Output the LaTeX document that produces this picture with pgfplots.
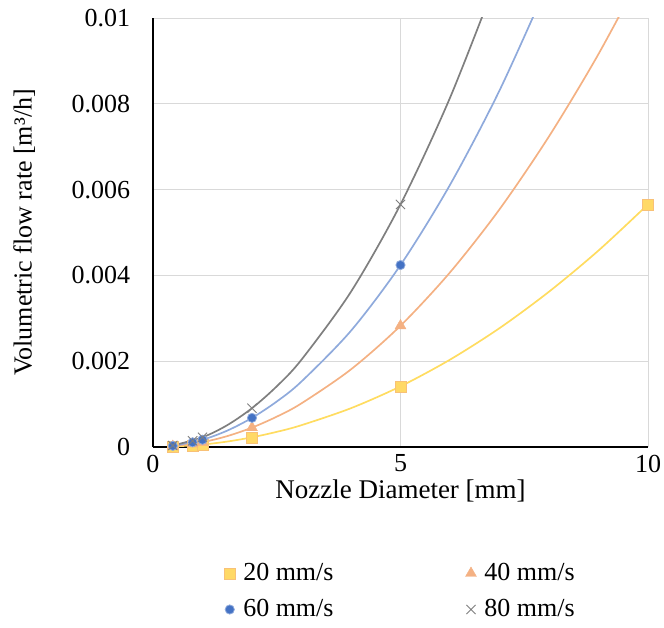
\documentclass[border=0pt]{standalone}
\usepackage{fontspec}
\setmainfont{Liberation Serif}
\usepackage{pgfplots}
\usepackage{pgfplotstable}
\pgfplotsset{compat=1.18}

\definecolor{cyel}{HTML}{FFD966}
\definecolor{cyelL}{HTML}{FFDC60}
\definecolor{corg}{HTML}{F4B183}
\definecolor{cblu}{HTML}{4472C4}
\definecolor{cbluL}{HTML}{8FAADC}
\definecolor{cgry}{HTML}{7F7F7F}
\definecolor{cgrid}{HTML}{D9D9D9}

% measured points: nozzle diameter [mm] vs volumetric flow rate [m3/h]
\pgfplotstableread{
d q
0.4 0.00000905
0.8 0.0000362
1.0 0.0000565
2.0 0.000226
5.0 0.001414
10.0 0.005655
}\vtwenty
\pgfplotstableread{
d q
0.4 0.0000181
0.8 0.0000724
1.0 0.000113
2.0 0.000452
5.0 0.002827
10.0 0.01131
}\vforty
\pgfplotstableread{
d q
0.4 0.0000271
0.8 0.0001086
1.0 0.0001696
2.0 0.000679
5.0 0.004241
10.0 0.01696
}\vsixty
\pgfplotstableread{
d q
0.4 0.0000362
0.8 0.0001448
1.0 0.000226
2.0 0.000905
5.0 0.005655
10.0 0.02262
}\veighty

% trend curves
\pgfplotstableread{
d q
0.4 0.000009
1.0 0.000057
1.5 0.000127
2.0 0.000226
2.5 0.000353
3.0 0.000509
4.0 0.000905
5.0 0.001414
6.0 0.002036
7.0 0.00277
8.0 0.00362
9.0 0.00458
10.0 0.005655
}\ttwenty
\pgfplotstableread{
d q
0.4 0.000018
1.0 0.000113
1.5 0.000254
2.0 0.000452
2.5 0.000707
3.0 0.001018
4.0 0.00181
5.0 0.002827
6.0 0.00407
7.0 0.00554
8.0 0.00724
9.0 0.00916
10.0 0.01131
}\tforty
\pgfplotstableread{
d q
0.4 0.000027
1.0 0.00017
1.5 0.000382
2.0 0.000679
2.5 0.00106
3.0 0.001527
4.0 0.00271
5.0 0.004241
6.0 0.00611
7.0 0.00831
8.0 0.01086
}\tsixty
\pgfplotstableread{
d q
0.4 0.000036
1.0 0.000226
1.5 0.000509
2.0 0.000905
2.5 0.001414
3.0 0.002036
4.0 0.00362
5.0 0.005655
6.0 0.00814
7.0 0.01108
}\teighty

\begin{document}
\fontsize{26bp}{31bp}\selectfont
\begin{tikzpicture}
\begin{axis}[
    scale only axis,
    width=495bp,
    height=429bp,
    xmin=0, xmax=10,
    ymin=0, ymax=0.01,
    xtick={0,5,10},
    xticklabels={0,5,10},
    ytick={0,0.002,0.004,0.006,0.008,0.01},
    yticklabels={0,0.002,0.004,0.006,0.008,0.01},
    scaled y ticks=false,
    scaled x ticks=false,
    major tick length=0pt,
    grid=major,
    major grid style={cgrid, line width=0.8pt},
    axis x line*=bottom,
    axis y line*=left,
    axis line style={black, line width=1.2pt},
    tick label style={font=\fontsize{26bp}{31bp}\selectfont},
    label style={font=\fontsize{26bp}{31bp}\selectfont},
    xlabel={Nozzle Diameter [mm]},
    ylabel={Volumetric flow rate [m³/h]},
    xticklabel style={yshift=1bp},
    yticklabel style={xshift=-14bp},
    xlabel style={yshift=10bp, font=\fontsize{27bp}{31bp}\selectfont},
    ylabel style={yshift=19bp},
    clip mode=individual,
    legend columns=2,
    legend style={at={(0.5,-0.26)}, anchor=north, draw=none,
        font=\fontsize{26bp}{31bp}\selectfont,
        /tikz/every odd column/.append style={column sep=6bp},
        /tikz/every even column/.append style={column sep=130bp},
        row sep=11bp},
    legend cell align=left,
]
\addplot[cyelL, line width=1.7pt, smooth, forget plot] table[x=d,y=q] {\ttwenty};
\addplot[corg, line width=1.7pt, smooth, forget plot] table[x=d,y=q] {\tforty};
\addplot[cbluL, line width=1.7pt, smooth, forget plot] table[x=d,y=q] {\tsixty};
\addplot[cgry, line width=1.7pt, smooth, forget plot] table[x=d,y=q] {\teighty};

\addplot[only marks, mark=square*, mark size=5.5bp, mark options={fill=cyel, draw=corg!60!cyel, line width=0.6pt}] table[x=d,y=q] {\vtwenty};
\addlegendentry{20 mm/s}
\addplot[only marks, mark=triangle*, mark size=6.3bp, mark options={fill=corg, draw=corg}] table[x=d,y=q] {\vforty};
\addlegendentry{40 mm/s}
\addplot[only marks, mark=*, mark size=4.6bp, mark options={fill=cblu, draw=cbluL, line width=0.8pt}] table[x=d,y=q] {\vsixty};
\addlegendentry{60 mm/s}
\addplot[only marks, mark=x, mark size=6.5bp, mark options={draw=cgry, line width=0.9pt}] table[x=d,y=q] {\veighty};
\addlegendentry{80 mm/s}
\end{axis}
\pgfresetboundingbox
\path[use as bounding box] ([xshift=-153bp,yshift=18bp]current axis.north west) rectangle ([xshift=16bp,yshift=-181bp]current axis.south east);
\end{tikzpicture}
\end{document}
